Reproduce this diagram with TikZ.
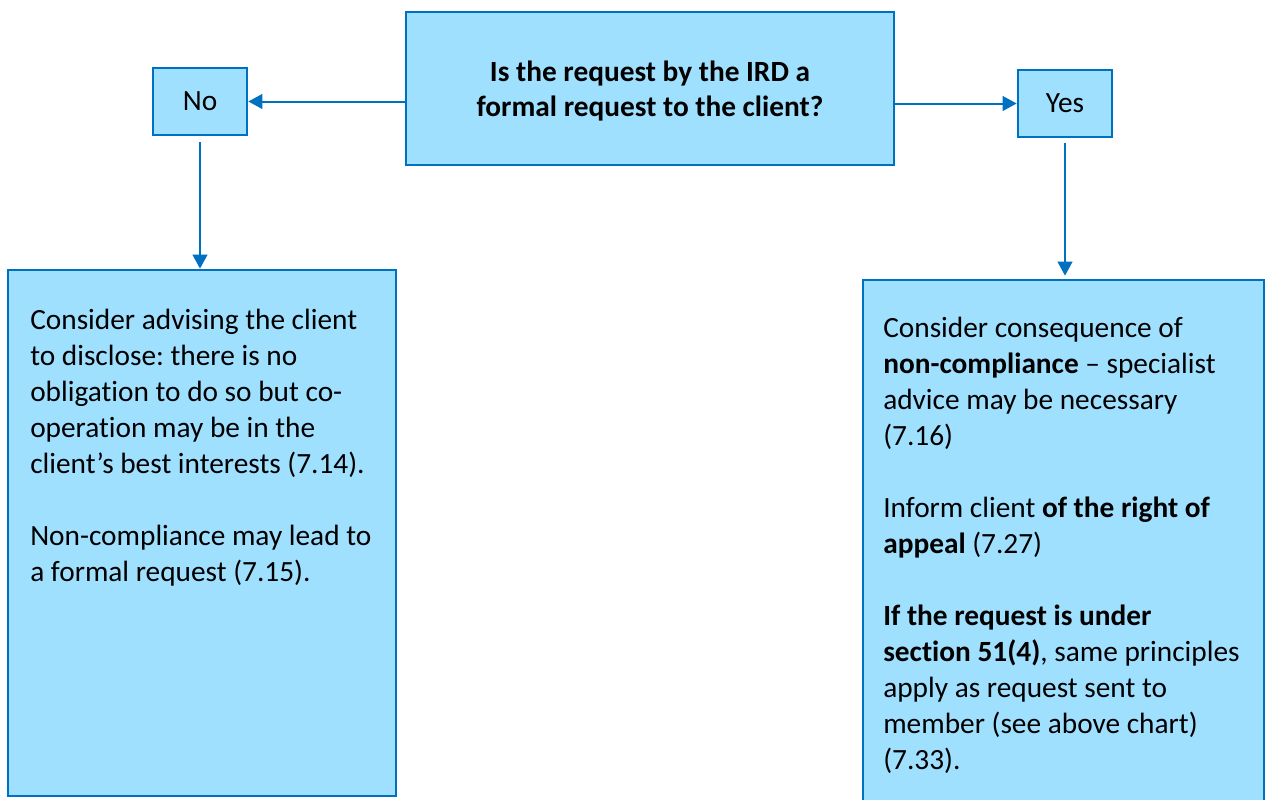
\documentclass[tikz,border=0pt]{standalone}
\usepackage{fontspec}
\setmainfont{Carlito}[Ligatures=NoCommon]
\frenchspacing
\usetikzlibrary{arrows.meta,fit,calc}
\definecolor{boxfill}{HTML}{A0E0FF}
\definecolor{boxline}{HTML}{0070C0}
\begin{document}
\begin{tikzpicture}[x=0.75pt,y=-0.75pt,
  box/.style={draw=boxline, fill=boxfill, line width=2pt, inner sep=0pt},
  lbl/.style={font=\fontsize{22}{27}\selectfont, inner sep=0pt},
  arr/.style={draw=boxline, line width=1.5pt,
              -{Triangle[length=10.5pt,width=11pt]}},
  txt/.style={font=\fontsize{22}{27}\selectfont, align=left,
              inner sep=0pt, anchor=north west},
]
\useasboundingbox (0,0) rectangle (1266,799);
\clip (0,0) rectangle (1266,799);

% question and the two answers
\node[box, fit={(406,12) (894,165)}] (q) {};
\node[font=\bfseries\fontsize{22}{26.5}\selectfont, align=center]
  (qtext) at (650,91) {Is the request by the IRD a\\formal request to the client?};
\node[box, fit={(153,68) (247,135)}] (no) {};
\node[lbl] (notext) at (no.center) {No};
\node[box, fit={(1018,70) (1112,137)}] (yes) {};
\node[lbl] (yestext) at (yes.center) {Yes};

% outcome boxes
\node[box, fit={(8,270) (396,796)}] (left) {};
\node[box, fit={(863,280) (1264,812)}] (right) {};

\node[txt] (ltext) at (30,309) {Consider advising the client\\
to disclose: there is no\\
obligation to do so but co-\\
operation may be in the\\
client’s best interests (7.14).\\
~\\
Non-compliance may lead to\\
a formal request (7.15).};

\node[txt] (rtext) at (883,317) {Consider consequence of\\
\textbf{non-compliance} – specialist\\
advice may be necessary\\
(7.16)\\
~\\
Inform client \textbf{of the right of}\\
\textbf{appeal} (7.27)\\
~\\
\textbf{If the request is under}\\
\textbf{section 51(4)}, same principles\\
apply as request sent to\\
member (see above chart)\\
(7.33).};

% connectors
\draw[arr] (q.west |- no) -- (no.east);
\draw[arr] (q.east |- yes) -- (yes.west);
\draw[arr] ($(no.south)+(0,6)$) -- (no.south |- left.north);
\draw[arr] ($(yes.south)+(0,5)$) -- ($(yes.south |- right.north)+(0,-3)$);
\end{tikzpicture}
\end{document}
